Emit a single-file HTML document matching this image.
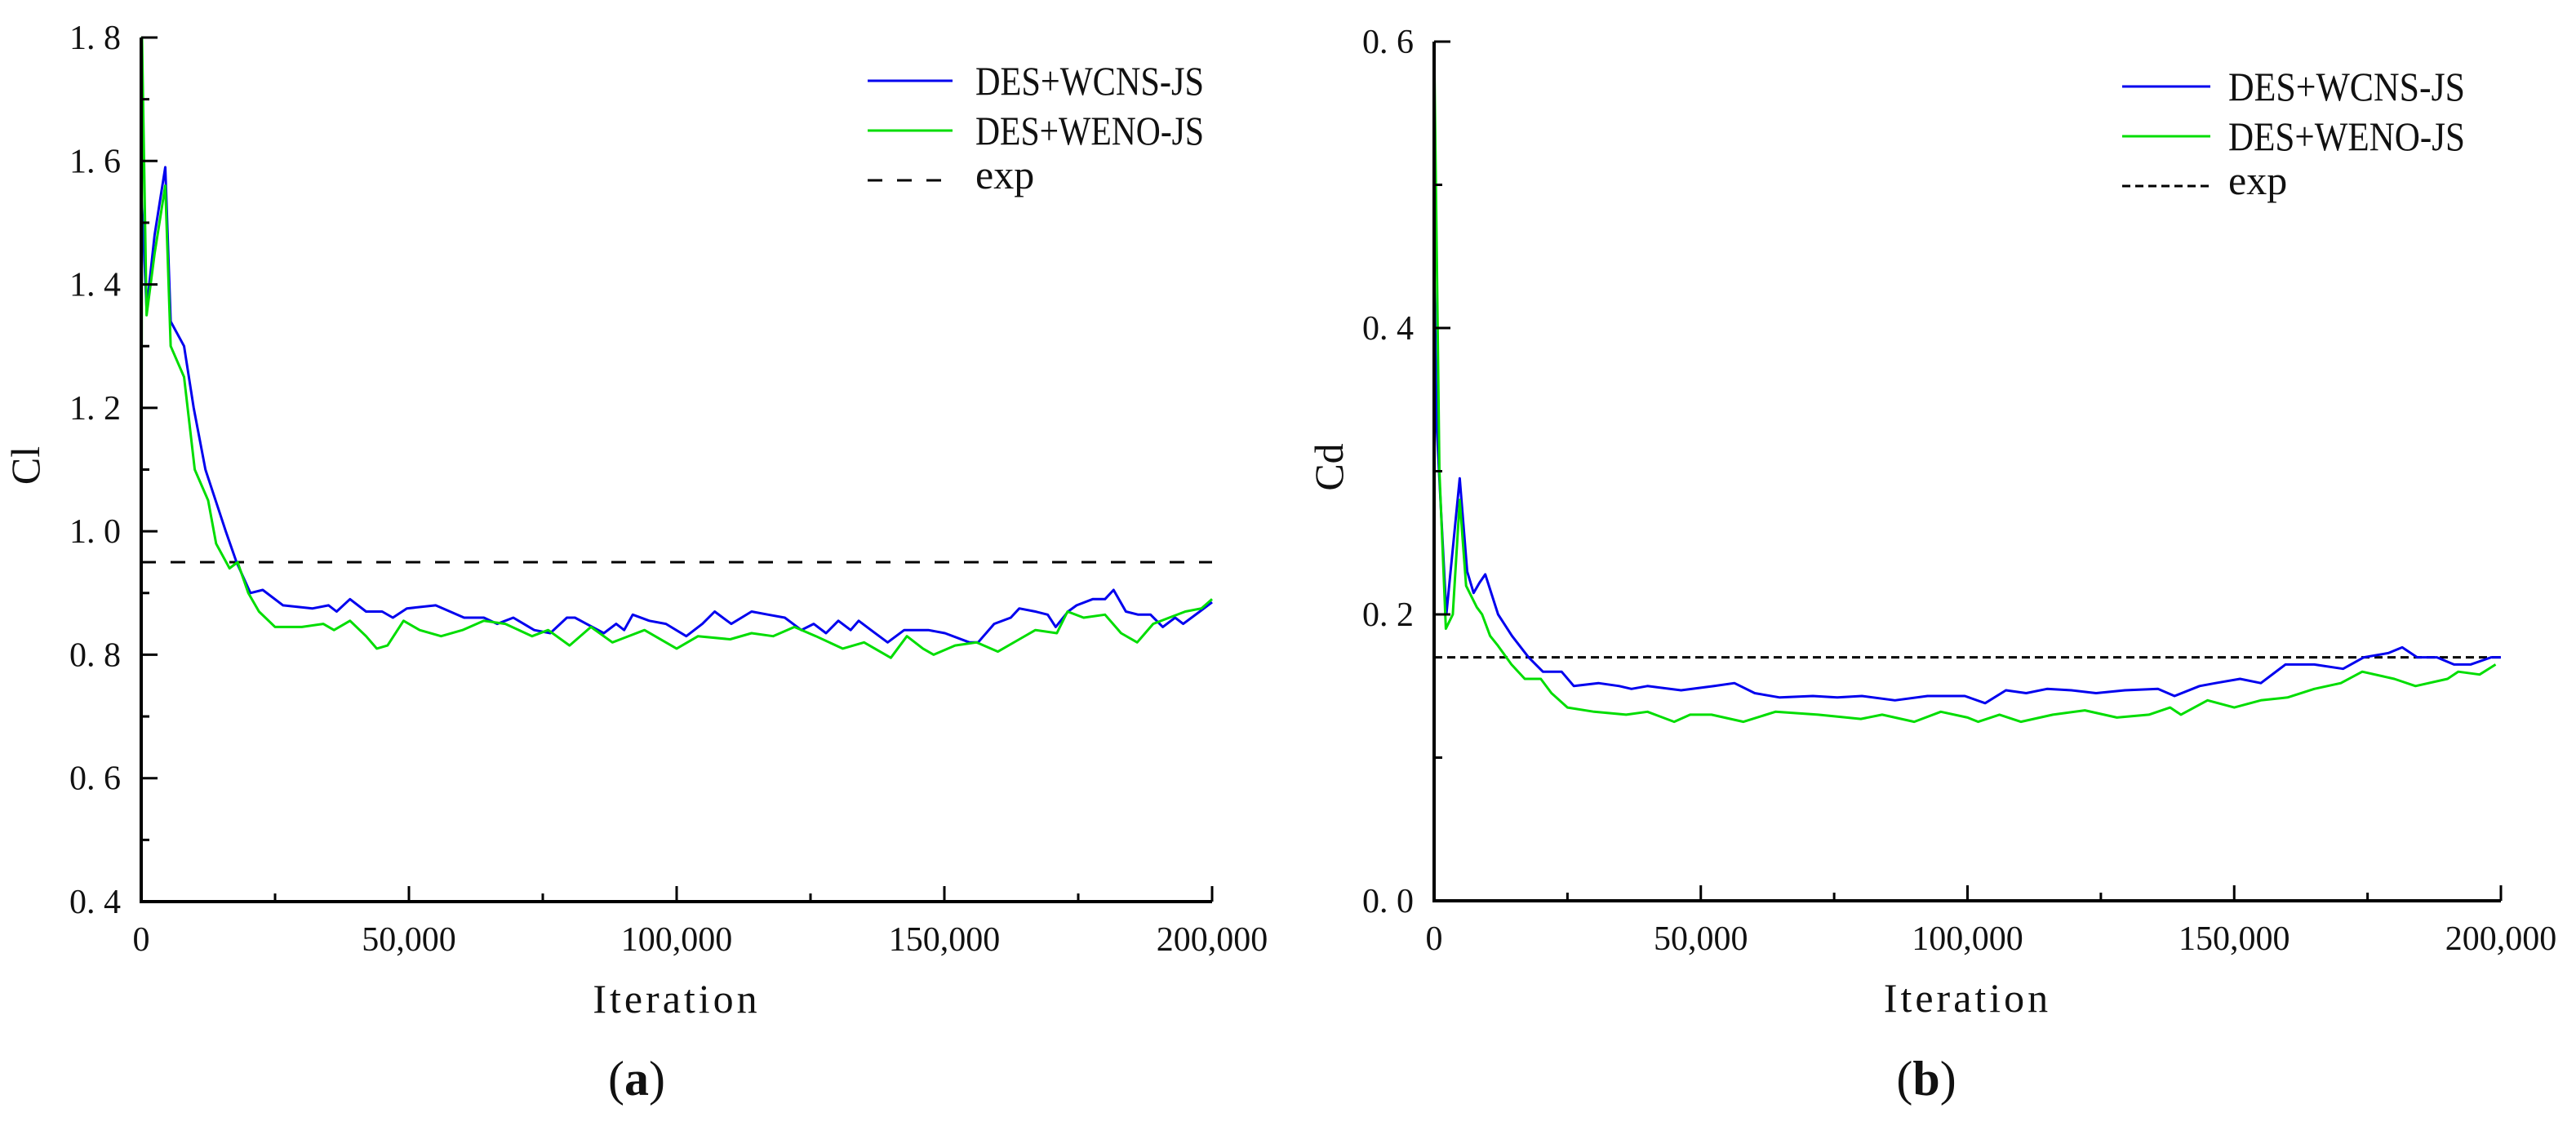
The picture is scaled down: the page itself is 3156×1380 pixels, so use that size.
<!DOCTYPE html>
<html><head><meta charset="utf-8"><style>
html,body{margin:0;padding:0;background:#fff;}
svg{display:block;}
text{font-family:"Liberation Serif","Noto Serif CJK SC",serif;fill:#111;}
</style></head><body>
<svg id="fig" width="3156" height="1380" viewBox="0 0 3156 1380" xmlns="http://www.w3.org/2000/svg"></svg>
<script>
// ---- data ----
const clBlueX=[0,300,1000,2500,4500,5500,8000,9800,12000,15800,17800,20400,22700,26500,32000,35000,36500,39000,42000,45000,47000,49600,55000,60300,64000,66500,69500,73400,76400,79500,81000,86400,88700,90200,91800,94900,98000,101800,104800,107100,110200,114000,117100,120200,123300,125600,127900,130200,132500,134000,136300,139400,142500,147000,150100,154700,156300,159300,162400,164000,167000,169300,170800,173100,174700,177700,180000,181600,183900,186200,188500,190800,193100,194600,197700,200000];
const clBlueY=[1.55,1.5,1.36,1.48,1.59,1.34,1.3,1.2,1.1,1.0,0.95,0.9,0.905,0.88,0.875,0.88,0.87,0.89,0.87,0.87,0.86,0.875,0.88,0.86,0.86,0.85,0.86,0.84,0.835,0.86,0.86,0.835,0.85,0.84,0.865,0.855,0.85,0.83,0.85,0.87,0.85,0.87,0.865,0.86,0.84,0.85,0.835,0.855,0.84,0.855,0.84,0.82,0.84,0.84,0.835,0.82,0.82,0.85,0.86,0.875,0.87,0.865,0.845,0.87,0.88,0.89,0.89,0.905,0.87,0.865,0.865,0.845,0.86,0.85,0.87,0.885];
const clGreenX=[0,150,1000,2500,4500,5500,8000,10000,12500,14000,16500,18000,20000,22000,25000,30000,34000,36000,39000,42000,44000,46000,49000,52000,56000,60000,64000,68000,73000,76000,80000,84000,88000,94000,100000,104000,110000,114000,118000,122000,126000,131000,135000,140000,143000,146000,148000,152000,156000,160000,164000,167000,171000,173000,176000,180000,183000,186000,189000,192000,195000,198000,200000];
const clGreenY=[0.47,1.8,1.35,1.45,1.56,1.3,1.25,1.1,1.05,0.98,0.94,0.95,0.9,0.87,0.845,0.845,0.85,0.84,0.855,0.83,0.81,0.815,0.855,0.84,0.83,0.84,0.855,0.85,0.83,0.84,0.815,0.845,0.82,0.84,0.81,0.83,0.825,0.835,0.83,0.845,0.83,0.81,0.82,0.795,0.83,0.81,0.80,0.815,0.82,0.805,0.825,0.84,0.835,0.87,0.86,0.865,0.835,0.82,0.85,0.86,0.87,0.875,0.89];
const cdBlueX=[0,500,2300,4800,6200,7400,8500,9600,12000,14600,17700,20400,23900,26200,30800,34700,37000,40000,46300,52500,56300,60100,64800,71000,75600,80200,86400,92500,99500,103300,107200,111000,114900,119500,124100,129500,135700,138800,143500,146500,151100,155000,159600,165000,170400,174300,178900,181500,184300,188000,191200,194300,198200,200000];
const cdBlueY=[0.45,0.33,0.2,0.295,0.23,0.215,0.222,0.228,0.2,0.185,0.17,0.16,0.16,0.15,0.152,0.15,0.148,0.15,0.147,0.15,0.152,0.145,0.142,0.143,0.142,0.143,0.14,0.143,0.143,0.138,0.147,0.145,0.148,0.147,0.145,0.147,0.148,0.143,0.15,0.152,0.155,0.152,0.165,0.165,0.162,0.17,0.173,0.177,0.17,0.17,0.165,0.165,0.17,0.17];
const cdGreenX=[0,500,1000,2200,3500,4800,6000,8000,9000,10500,12000,14500,17000,20000,22000,25000,30000,36000,40000,45000,48000,52000,58000,64000,72000,80000,84000,90000,95000,100000,102000,106000,110000,116000,122000,128000,134000,138000,140000,145000,150000,155000,160000,165000,170000,174000,180000,184000,190000,192000,196000,199000];
const cdGreenY=[0.6,0.45,0.3,0.19,0.2,0.28,0.22,0.205,0.2,0.185,0.178,0.165,0.155,0.155,0.145,0.135,0.132,0.13,0.132,0.125,0.13,0.13,0.125,0.132,0.13,0.127,0.13,0.125,0.132,0.128,0.125,0.13,0.125,0.13,0.133,0.128,0.13,0.135,0.13,0.14,0.135,0.14,0.142,0.148,0.152,0.16,0.155,0.15,0.155,0.16,0.158,0.165];
const xTicks=[0,50000,100000,150000,200000];
const xTickLabels=["0","50,000","100,000","150,000","200,000"];
const clTicks=[0.4,0.6,0.8,1.0,1.2,1.4,1.6,1.8];
const clTickLabels=["0. 4","0. 6","0. 8","1. 0","1. 2","1. 4","1. 6","1. 8"];
const cdTicks=[0.0,0.2,0.4,0.6];
const cdTickLabels=["0. 0","0. 2","0. 4","0. 6"];
const clExp=[0.95];
const cdExp=[0.17];

const NS="http://www.w3.org/2000/svg";
const svg=document.getElementById('fig');
function el(tag,attrs,parent,txt){const e=document.createElementNS(NS,tag);for(const k in attrs)e.setAttribute(k,attrs[k]);if(txt!==undefined)e.textContent=txt;(parent||svg).appendChild(e);return e;}

function panel(o){
  const g=el('g',{});
  
  
  const sx=v=>o.x0+(v-0)/(200000)*(o.x1-o.x0);
  const sy=v=>o.yb-(v-o.ymin)/(o.ymax-o.ymin)*(o.yb-o.yt);
  const ex=el('line',{x1:o.x0,x2:o.x1,y1:sy(o.exp[0]),y2:sy(o.exp[0]),stroke:'#000','stroke-width':3,'stroke-dasharray':o.dash},g);
  
  
  const mk=(xs,ys,c,n)=>{let d='';xs.forEach((x,i)=>{d+=(i?'L':'M')+sx(x).toFixed(1)+' '+sy(ys[i]).toFixed(1)});
    const p=el('path',{d:d,fill:'none',stroke:c,'stroke-width':3,'stroke-linejoin':'round'},g);
    
    };
  mk(o.bx,o.by,'#0000ee','series-des-wcns-js');
  mk(o.gx,o.gy,'#00dd00','series-des-weno-js');
  const ax=el('path',{d:`M${o.x0} ${o.yt}V${o.yb}H${o.x1}`,fill:'none',stroke:'#000','stroke-width':4},g);
  
  
  o.yt_.forEach((v,i)=>{const y=sy(v);
    el('line',{x1:o.x0,x2:o.x0+20,y1:y,y2:y,stroke:'#000','stroke-width':3},g);
    if(i<o.yt_.length-1){const ym=sy(v+(o.yt_[1]-o.yt_[0])/2);el('line',{x1:o.x0,x2:o.x0+10,y1:ym,y2:ym,stroke:'#000','stroke-width':3},g);}
    const t=el('text',{x:o.x0-25,y:y+14,'text-anchor':'end','font-size':42},g,o.ylab[i]);
    
    });
  xTicks.forEach((v,i)=>{const x=sx(v);
    el('line',{x1:x,x2:x,y1:o.yb,y2:o.yb-19,stroke:'#000','stroke-width':3},g);
    if(i<xTicks.length-1){const xm=sx(v+25000);el('line',{x1:xm,x2:xm,y1:o.yb,y2:o.yb-10,stroke:'#000','stroke-width':3},g);}
    const t=el('text',{x:x,y:o.yb+60,'text-anchor':'middle','font-size':42},g,xTickLabels[i]);
    
    });
  const xt=el('text',{x:(o.x0+o.x1)/2,y:o.yb+136,'text-anchor':'middle','font-size':50,'letter-spacing':4},g,'Iteration');
  
  
  const yt=el('text',{x:0,y:0,'text-anchor':'middle','font-size':50,transform:`translate(${o.ytx},${(o.yt+o.yb)/2-5}) rotate(-90)`},g,o.ytitle);
  
  
  const cap=el('text',{x:o.capx,y:1342,'text-anchor':'middle','font-size':60},g);
  
  
  el('tspan',{},cap,'(');el('tspan',{'font-weight':'bold'},cap,o.cap);el('tspan',{},cap,')');
  const lg=el('g',{},g);
  
  
  const L=o.leg;
  [['#0000ee','DES+WCNS-JS',null],['#00dd00','DES+WENO-JS',null],['#000','exp',o.ldash]].forEach((r,i)=>{
    const y=L.y+i*L.dy;
    const a={x1:L.x,x2:L.x+L.w,y1:y,y2:y,stroke:r[0],'stroke-width':3};if(r[2])a['stroke-dasharray']=r[2];
    el('line',a,lg);
    const ta={x:L.tx,y:y+(i==2?10:17),'font-size':50};
    if(i<2)ta.textLength=L.tl,ta.lengthAdjust='spacingAndGlyphs';
    const t=el('text',ta,lg,r[1]);
    
    });
}
panel({name:'panel-a-cl',x0:173,x1:1485,yt:46,yb:1105,ymin:0.4,ymax:1.8,yt_:clTicks,ylab:clTickLabels,exp:clExp,dash:'18 18',
  bx:clBlueX,by:clBlueY,gx:clGreenX,gy:clGreenY,ytitle:'Cl',ytx:48,capx:780,cap:'a',
  leg:{x:1063,w:104,y:99,dy:61,tx:1195,tl:280},ldash:'18 18'});
panel({name:'panel-b-cd',x0:1757,x1:3064,yt:51,yb:1104,ymin:0,ymax:0.6,yt_:cdTicks,ylab:cdTickLabels,exp:cdExp,dash:'10 6',
  bx:cdBlueX,by:cdBlueY,gx:cdGreenX,gy:cdGreenY,ytitle:'Cd',ytx:1645,capx:2360,cap:'b',
  leg:{x:2600,w:108,y:106,dy:61,tx:2730,tl:290},ldash:'10 6'});
</script>
</body></html>
